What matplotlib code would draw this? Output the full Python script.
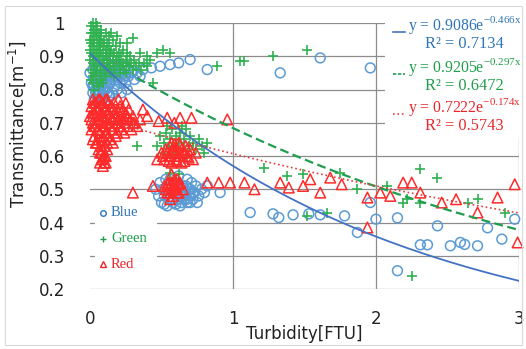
import numpy as np
import matplotlib
matplotlib.use("Agg")
import matplotlib.pyplot as plt
from matplotlib.patches import Rectangle
from matplotlib.lines import Line2D

W, H = 526, 349

# turbidity / transmittance samples, (x, y) per channel
blue_pts = [
    (0.00, 0.85), (0.01, 0.82), (0.02, 0.79), (0.02, 0.86), (0.03, 0.83), (0.03, 0.77),
    (0.04, 0.80), (0.04, 0.88), (0.05, 0.84), (0.05, 0.78), (0.06, 0.82), (0.06, 0.86),
    (0.07, 0.79), (0.07, 0.84), (0.08, 0.81), (0.08, 0.87), (0.09, 0.77), (0.09, 0.83),
    (0.10, 0.80), (0.10, 0.85), (0.11, 0.82), (0.11, 0.88), (0.12, 0.79), (0.12, 0.84),
    (0.13, 0.86), (0.14, 0.82), (0.15, 0.85), (0.16, 0.87), (0.17, 0.84), (0.18, 0.86),
    (0.19, 0.83), (0.20, 0.87), (0.21, 0.85), (0.22, 0.86), (0.24, 0.84), (0.25, 0.87),
    (0.27, 0.86), (0.06, 0.76), (0.10, 0.76), (0.13, 0.78),
    (0.03, 0.81), (0.05, 0.81), (0.07, 0.82), (0.09, 0.80), (0.11, 0.80), (0.13, 0.82),
    (0.15, 0.83), (0.04, 0.79), (0.08, 0.78), (0.12, 0.81), (0.14, 0.84), (0.16, 0.85),
    (0.18, 0.84), (0.20, 0.85), (0.02, 0.81), (0.06, 0.79),
    (0.17, 0.81), (0.19, 0.80), (0.21, 0.82), (0.23, 0.83), (0.25, 0.82), (0.27, 0.84),
    (0.29, 0.85), (0.31, 0.83), (0.33, 0.85), (0.35, 0.84), (0.22, 0.79), (0.26, 0.80),
    (0.14, 0.78), (0.16, 0.79),
    (0.30, 0.855), (0.37, 0.86), (0.43, 0.865), (0.49, 0.87), (0.56, 0.875), (0.62, 0.88),
    (0.70, 0.89), (0.82, 0.86), (1.33, 0.85), (1.61, 0.895), (1.96, 0.865),
    (0.46, 0.50), (0.48, 0.48), (0.49, 0.52), (0.50, 0.46), (0.51, 0.50), (0.52, 0.48),
    (0.53, 0.53), (0.54, 0.45), (0.55, 0.49), (0.56, 0.47), (0.57, 0.51), (0.58, 0.46),
    (0.59, 0.49), (0.60, 0.52), (0.61, 0.47), (0.62, 0.50), (0.63, 0.45), (0.64, 0.48),
    (0.65, 0.51), (0.66, 0.47), (0.67, 0.49), (0.68, 0.46), (0.69, 0.50), (0.70, 0.48),
    (0.71, 0.52), (0.72, 0.47), (0.73, 0.49), (0.74, 0.51), (0.76, 0.48), (0.78, 0.50),
    (0.80, 0.49), (0.82, 0.51), (0.56, 0.53), (0.62, 0.54), (0.52, 0.455), (0.60, 0.455),
    (0.68, 0.53), (0.75, 0.46), (0.91, 0.49),
    (0.62, 0.47), (0.64, 0.46), (0.66, 0.48), (0.68, 0.47), (0.70, 0.46), (0.65, 0.49),
    (0.67, 0.51), (0.70, 0.50), (0.72, 0.49), (0.63, 0.48),
    (1.12, 0.43), (1.28, 0.426), (1.32, 0.415), (1.42, 0.423), (1.53, 0.426), (1.61, 0.423),
    (1.78, 0.42), (1.87, 0.37), (1.96, 0.46), (2.00, 0.41), (2.15, 0.414), (2.15, 0.255),
    (2.43, 0.39), (2.31, 0.333), (2.36, 0.333), (2.52, 0.33), (2.59, 0.34), (2.62, 0.334),
    (2.71, 0.33), (2.78, 0.384), (2.88, 0.35), (2.97, 0.41),
]

green_pts = [
    (0.01, 0.99), (0.02, 0.97), (0.03, 0.98), (0.03, 0.95), (0.04, 0.96), (0.05, 0.99),
    (0.05, 0.94), (0.06, 0.97), (0.07, 0.95), (0.08, 0.96), (0.02, 0.93), (0.04, 0.92),
    (0.06, 0.93), (0.08, 0.94), (0.10, 0.93), (0.12, 0.92), (0.01, 0.91), (0.03, 0.90),
    (0.05, 0.91), (0.07, 0.92), (0.09, 0.91), (0.11, 0.90), (0.13, 0.91), (0.15, 0.92),
    (0.02, 0.88), (0.04, 0.87), (0.06, 0.89), (0.09, 0.88), (0.12, 0.89), (0.14, 0.90),
    (0.17, 0.91), (0.19, 0.90), (0.03, 0.85), (0.05, 0.86), (0.08, 0.86), (0.10, 0.87),
    (0.13, 0.87), (0.16, 0.88), (0.20, 0.89), (0.23, 0.88), (0.01, 0.83), (0.04, 0.84),
    (0.07, 0.84), (0.10, 0.85), (0.14, 0.86), (0.18, 0.87), (0.22, 0.87), (0.26, 0.88),
    (0.02, 0.82), (0.05, 0.82), (0.08, 0.83), (0.11, 0.84), (0.15, 0.85), (0.03, 0.80),
    (0.06, 0.81), (0.09, 0.82), (0.00, 0.89), (0.01, 0.86), (0.02, 0.84),
    (0.01, 0.97), (0.02, 0.95), (0.03, 0.93), (0.04, 0.98), (0.05, 0.96), (0.06, 0.95),
    (0.07, 0.93), (0.08, 0.98), (0.09, 0.94), (0.10, 0.95), (0.11, 0.92), (0.12, 0.94),
    (0.13, 0.93), (0.14, 0.91), (0.16, 0.90), (0.18, 0.89), (0.02, 0.90), (0.04, 0.89),
    (0.06, 0.91), (0.08, 0.90), (0.10, 0.89), (0.12, 0.87), (0.14, 0.88), (0.17, 0.86),
    (0.20, 0.87), (0.24, 0.86), (0.03, 0.87), (0.07, 0.87), (0.11, 0.86), (0.02, 1.00),
    (0.04, 1.00), (0.00, 0.95), (0.00, 0.92), (0.01, 0.94),
    (0.16, 0.95), (0.18, 0.93), (0.20, 0.91), (0.21, 0.94), (0.22, 0.90), (0.23, 0.92),
    (0.25, 0.89), (0.26, 0.91), (0.27, 0.87), (0.28, 0.90), (0.29, 0.88), (0.31, 0.89),
    (0.32, 0.87), (0.34, 0.88), (0.36, 0.86), (0.38, 0.88), (0.40, 0.87), (0.19, 0.96),
    (0.15, 0.97), (0.17, 0.84), (0.21, 0.85), (0.25, 0.85), (0.30, 0.86), (0.13, 0.96),
    (0.11, 0.97),
    (0.26, 0.94), (0.30, 0.955), (0.35, 0.91), (0.40, 0.90), (0.42, 0.89), (0.47, 0.91),
    (0.51, 0.92), (0.56, 0.91), (0.89, 0.87), (1.05, 0.885), (1.08, 0.885), (0.44, 0.82),
    (0.33, 0.63), (1.28, 0.90), (1.52, 0.92),
    (0.47, 0.63), (0.49, 0.66), (0.51, 0.61), (0.52, 0.64), (0.53, 0.67), (0.55, 0.62),
    (0.56, 0.65), (0.57, 0.68), (0.58, 0.63), (0.60, 0.66), (0.61, 0.61), (0.62, 0.64),
    (0.63, 0.67), (0.65, 0.62), (0.66, 0.65), (0.67, 0.68), (0.69, 0.63), (0.70, 0.66),
    (0.72, 0.64), (0.74, 0.62), (0.76, 0.65), (0.78, 0.63), (0.80, 0.61), (0.82, 0.64),
    (0.59, 0.60), (0.68, 0.60), (0.54, 0.69), (0.64, 0.69), (0.56, 0.55), (0.62, 0.545),
    (1.22, 0.565), (1.38, 0.54), (1.49, 0.545), (1.75, 0.55), (1.52, 0.42), (1.66, 0.43),
    (1.87, 0.50), (2.08, 0.51), (2.19, 0.46), (2.22, 0.47), (2.31, 0.46), (2.31, 0.56),
    (2.43, 0.535), (2.64, 0.46), (2.71, 0.47), (2.90, 0.43), (2.25, 0.24),
]

red_pts = [
    (0.00, 0.72), (0.01, 0.68), (0.01, 0.75), (0.02, 0.70), (0.02, 0.77), (0.03, 0.66),
    (0.03, 0.73), (0.04, 0.69), (0.04, 0.76), (0.05, 0.71), (0.05, 0.64), (0.06, 0.74),
    (0.06, 0.68), (0.07, 0.77), (0.07, 0.71), (0.08, 0.65), (0.08, 0.73), (0.09, 0.69),
    (0.09, 0.76), (0.10, 0.72), (0.10, 0.63), (0.11, 0.67), (0.11, 0.74), (0.12, 0.70),
    (0.12, 0.77), (0.13, 0.66), (0.13, 0.73), (0.14, 0.69), (0.15, 0.75), (0.15, 0.71),
    (0.16, 0.68), (0.17, 0.73), (0.18, 0.70), (0.19, 0.74), (0.20, 0.71), (0.21, 0.69),
    (0.22, 0.73), (0.24, 0.70), (0.26, 0.72), (0.07, 0.61), (0.08, 0.59), (0.09, 0.62),
    (0.10, 0.58), (0.11, 0.60), (0.09, 0.57), (0.12, 0.62), (0.06, 0.62),
    (0.01, 0.71), (0.02, 0.73), (0.03, 0.69), (0.03, 0.76), (0.04, 0.72), (0.05, 0.74),
    (0.05, 0.68), (0.06, 0.71), (0.06, 0.77), (0.07, 0.73), (0.07, 0.67), (0.08, 0.70),
    (0.08, 0.76), (0.09, 0.72), (0.09, 0.66), (0.10, 0.74), (0.10, 0.69), (0.11, 0.71),
    (0.11, 0.77), (0.12, 0.73), (0.12, 0.67), (0.13, 0.70), (0.13, 0.76), (0.14, 0.72),
    (0.15, 0.68), (0.16, 0.74), (0.16, 0.71), (0.17, 0.69), (0.18, 0.72), (0.19, 0.70),
    (0.20, 0.73), (0.21, 0.72), (0.23, 0.71), (0.02, 0.65), (0.04, 0.64), (0.06, 0.65),
    (0.08, 0.63), (0.10, 0.65), (0.12, 0.64), (0.08, 0.61), (0.10, 0.60), (0.07, 0.58),
    (0.11, 0.58), (0.09, 0.595),
    (0.17, 0.76), (0.19, 0.67), (0.21, 0.75), (0.22, 0.68), (0.23, 0.74), (0.24, 0.67),
    (0.25, 0.73), (0.26, 0.69), (0.27, 0.74), (0.28, 0.71), (0.29, 0.68), (0.30, 0.72),
    (0.18, 0.66), (0.14, 0.65), (0.16, 0.64), (0.20, 0.77), (0.25, 0.76), (0.31, 0.70),
    (0.33, 0.69), (0.35, 0.71),
    (0.37, 0.74), (0.26, 0.715), (0.30, 0.70), (0.40, 0.72), (0.48, 0.705), (0.54, 0.715),
    (0.59, 0.70), (0.63, 0.715), (0.71, 0.715), (0.96, 0.71),
    (0.50, 0.61), (0.52, 0.59), (0.53, 0.62), (0.55, 0.60), (0.56, 0.63), (0.57, 0.58),
    (0.58, 0.61), (0.60, 0.59), (0.61, 0.62), (0.62, 0.64), (0.63, 0.60), (0.64, 0.58),
    (0.65, 0.61), (0.67, 0.63), (0.68, 0.60), (0.70, 0.62), (0.72, 0.59), (0.74, 0.61),
    (0.59, 0.635), (0.66, 0.585), (0.47, 0.59),
    (0.51, 0.60), (0.54, 0.61), (0.56, 0.60), (0.58, 0.62), (0.60, 0.61), (0.62, 0.60),
    (0.64, 0.62), (0.66, 0.61), (0.68, 0.62), (0.55, 0.585), (0.61, 0.585), (0.69, 0.595),
    (0.57, 0.64), (0.63, 0.635),
    (0.52, 0.51), (0.54, 0.49), (0.55, 0.52), (0.57, 0.50), (0.58, 0.48), (0.59, 0.52),
    (0.60, 0.50), (0.62, 0.49), (0.63, 0.52), (0.65, 0.50), (0.56, 0.47), (0.61, 0.53),
    (0.53, 0.50), (0.55, 0.50), (0.57, 0.52), (0.58, 0.50), (0.60, 0.51), (0.61, 0.49),
    (0.56, 0.49), (0.54, 0.515), (0.62, 0.515), (0.59, 0.53), (0.57, 0.545),
    (0.30, 0.49), (0.44, 0.51), (0.82, 0.52), (0.90, 0.52), (0.98, 0.52), (1.08, 0.52),
    (1.15, 0.50), (1.33, 0.52), (1.39, 0.505), (1.49, 0.51), (1.54, 0.53), (1.61, 0.49),
    (1.68, 0.535), (1.76, 0.515), (1.94, 0.475), (1.94, 0.385), (2.03, 0.49), (2.10, 0.48),
    (2.19, 0.52), (2.25, 0.52), (2.31, 0.49), (2.46, 0.46), (2.56, 0.47), (2.71, 0.43),
    (2.85, 0.475), (2.97, 0.515), (2.99, 0.34),
]

# exponential fits y = a * exp(b * x)
fits = {
    "blue": (0.9086, -0.466, 0.7134),
    "green": (0.9205, -0.297, 0.6472),
    "red": (0.7222, -0.174, 0.5743),
}

c_blue, c_green, c_red = "#5b9bd5", "#2fb150", "#ff2a2a"
t_blue, t_green, t_red = "#2e75b6", "#1e9e4a", "#e8262b"

fig = plt.figure(figsize=(W / 100, H / 100), dpi=100)
ax = fig.add_axes([90 / W, 1 - 289 / H, 429 / W, 266 / H])
ax.set_xlim(0, 3)
ax.set_ylim(0.2, 1.0)
for s in ax.spines.values():
    s.set_visible(False)

yt = [0.2, 0.3, 0.4, 0.5, 0.6, 0.7, 0.8, 0.9, 1.0]
for y in yt:
    ax.axhline(y, color="#8c8c8c", lw=0.9, zorder=0.5)
for x in [1, 2, 3]:
    ax.axvline(x, color="#8c8c8c", lw=0.9, zorder=0.5)

ax.set_xticks([0, 1, 2, 3])
ax.set_xticklabels(["0", "1", "2", "3"])
ax.set_yticks(yt)
ax.set_yticklabels(["0.2", "0.3", "0.4", "0.5", "0.6", "0.7", "0.8", "0.9", "1"])
ax.tick_params(length=0, labelsize=12, colors="#222222")
ax.tick_params(axis="y", pad=18)
ax.tick_params(axis="x", pad=15)

bx, by = np.array(blue_pts).T
gx, gy = np.array(green_pts).T
rx, ry = np.array(red_pts).T
ax.scatter(bx, by, s=50, marker="o", facecolors="none", edgecolors=c_blue,
           linewidths=1.1, zorder=2, clip_on=False)
ax.scatter(gx, gy, s=62, marker="+", color=c_green, linewidths=1.2, zorder=2.1, clip_on=False)
ax.scatter(rx, ry, s=58, marker="^", facecolors="none", edgecolors=c_red,
           linewidths=1.1, zorder=2.2, clip_on=False)

xs = np.linspace(0, 3, 200)
a, b, _ = fits["blue"]
ax.plot(xs, a * np.exp(b * xs), color="#4472c4", lw=1.3, zorder=3)
xg = np.linspace(0.33, 3, 200)
a, b, _ = fits["green"]
ax.plot(xg, a * np.exp(b * xg), color="#1f9e4f", lw=1.6, ls=(0, (4, 2)), zorder=3)
a, b, _ = fits["red"]
ax.plot(xs, a * np.exp(b * xs), color="#e03c3c", lw=1.2, ls=":", zorder=3)

# white boxes behind the equations and the series key
ax.add_patch(Rectangle((2.06, 0.657), 1.3, 0.5, facecolor="white", edgecolor="none",
                       zorder=1, clip_on=False))
ax.add_patch(Rectangle((0.035, 0.215), 0.435, 0.265, facecolor="white", edgecolor="none",
                       zorder=1))

ax.set_xlabel("Turbidity[FTU]", fontsize=12, color="#222222")
ax.set_ylabel(r"Transmittance[m$^{\mathregular{-1}}$]", fontsize=12, color="#222222")
ax.yaxis.set_label_coords(-0.145, 0.62)
ax.xaxis.set_label_coords(0.5, -0.135)


def fx(px):
    return px / W


def fy(py):
    return 1 - py / H


serif = "Liberation Serif"
eq_rows = [("blue", t_blue, 25, "-", "#4472c4"),
           ("green", t_green, 67, (0, (2, 1)), "#1f9e4f"),
           ("red", t_red, 107, ":", "#e03c3c")]
for name, col, py, ls, lc in eq_rows:
    a, b, r2 = fits[name]
    fig.text(fx(465), fy(py), "y = %.4fe$^{\\mathregular{%.3fx}}$" % (a, b),
             ha="center", va="center", fontsize=11.3, color=col, family=serif)
    fig.text(fx(464), fy(py + 19), "R² = %.4f" % r2,
             ha="center", va="center", fontsize=11.8, color=col, family=serif)
    fig.add_artist(Line2D([fx(393), fx(405)], [fy(py + 7), fy(py + 7)], color=lc, lw=1.2, ls=ls))

for py, label, col, mk in [(213, "Blue", t_blue, "o"), (239, "Green", t_green, "+"),
                           (264, "Red", t_red, "^")]:
    fig.add_artist(Line2D([fx(103)], [fy(py)], marker=mk, ms=4, mfc="none",
                          mec=col, color=col, mew=1.0, ls="none"))
    fig.text(fx(111), fy(py), label, ha="left", va="center", fontsize=10.5,
             color=col, family=serif)

fig.add_artist(Rectangle((fx(5), fy(345)), fx(517), 339 / H, transform=fig.transFigure,
                         facecolor="none", edgecolor="#d9d9d9", lw=0.8))

fig.savefig("out.png", dpi=100)
